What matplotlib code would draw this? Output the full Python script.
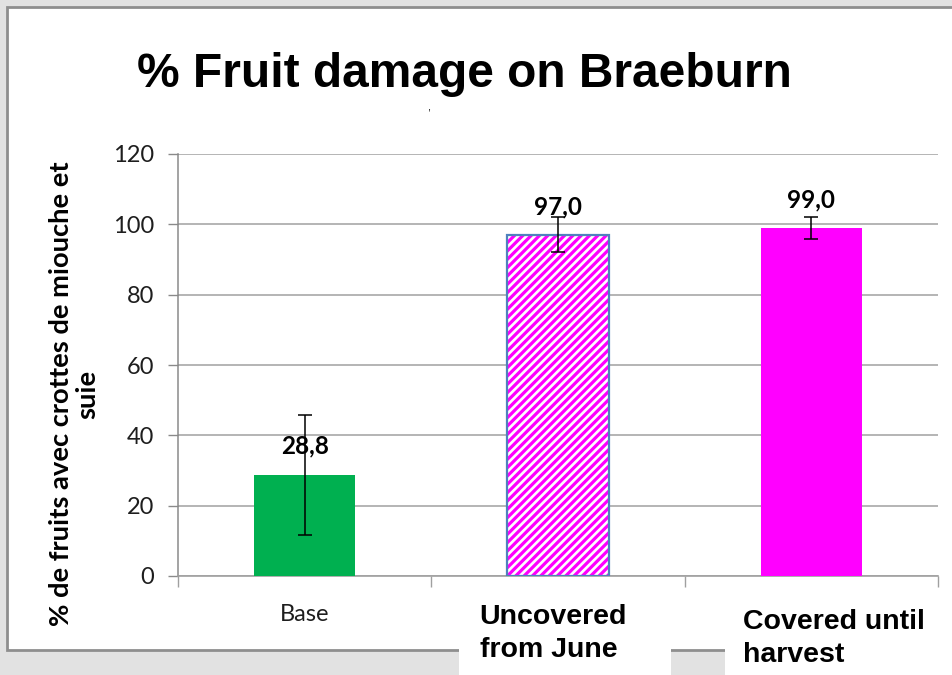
import numpy as np
import matplotlib
matplotlib.use("Agg")
import matplotlib.pyplot as plt
from matplotlib.patches import Rectangle
import matplotlib.transforms as mtransforms

# ---- data ----
categories = ["Base", "Uncovered\nfrom June", "Covered until\nharvest"]
values = [28.8, 97.0, 99.0]
errors = [17.0, 5.0, 3.2]
value_labels = ["28,8", "97,0", "99,0"]
yticks = [0, 20, 40, 60, 80, 100, 120]
title = "% Fruit damage on Braeburn"
ylabel = "% de fruits avec crottes de miouche et\nsuie"

# ---- styles ----
fill_colors = ["#00b050", "white", "#ff00ff"]
hatch_colors = ["#00b050", "#ff00ff", "#ff00ff"]
hatches = [None, "////", None]
outline_colors = [None, "#4f81bd", None]

W, H = 953, 675
fig = plt.figure(figsize=(W / 100, H / 100), dpi=100)
fig.patch.set_facecolor("#e2e2e2")
plt.rcParams["hatch.linewidth"] = 2.3


def pxrect(x0, y0, x1, y1, **kw):
    return Rectangle((x0 / W, 1 - y1 / H), (x1 - x0) / W, (y1 - y0) / H,
                     transform=fig.transFigure, **kw)


fig.add_artist(pxrect(7, 7, 975, 650, facecolor="white", edgecolor="#8e8e8e",
                      linewidth=2, zorder=-5))
fig.add_artist(pxrect(459, 598, 671, 690, facecolor="white", edgecolor="none", zorder=-4))
fig.add_artist(pxrect(725, 598, 990, 690, facecolor="white", edgecolor="none", zorder=-4))

ax = fig.add_axes([178 / W, 1 - 576 / H, 760 / W, 422 / H])
ax.set_facecolor("none")
x = np.arange(len(categories))

for i in range(len(categories)):
    ax.bar(x[i], values[i], width=0.4, color=fill_colors[i], edgecolor=hatch_colors[i],
           hatch=hatches[i], linewidth=0, zorder=3)
    if outline_colors[i]:
        ax.bar(x[i], values[i], width=0.4, fill=False, edgecolor=outline_colors[i],
               linewidth=1.6, zorder=4)

ax.errorbar(x, values, yerr=errors, fmt="none", ecolor="black", elinewidth=1.1,
            capsize=5, capthick=1.1, zorder=6)

for i, lab in enumerate(value_labels):
    ax.annotate(lab, xy=(x[i], values[i]), xytext=(0, 15), textcoords="offset points",
                ha="center", va="baseline", fontsize=17.5, fontweight="bold",
                family="Lato", color="black", zorder=7)

ax.set_xlim(-0.5, 2.5)
ax.set_ylim(0, 120)
ax.set_yticks(yticks)
ax.set_yticklabels([str(t) for t in yticks], family="Lato", fontsize=17, color="#1e1e1e")
ax.tick_params(axis="y", length=7, width=1, color="#8a8a8a", pad=10)
ax.grid(axis="y", color="#a8a8a8", linewidth=1.2, zorder=0)
ax.set_axisbelow(True)
for s in ["top", "right"]:
    ax.spines[s].set_visible(False)
ax.spines["left"].set_color("#8a8a8a")
ax.spines["bottom"].set_color("#a0a0a0")
ax.spines["left"].set_linewidth(1.1)
ax.spines["bottom"].set_linewidth(1.2)

ax.set_xticks(x)
ax.set_xticklabels([""] * len(x))
ax.tick_params(axis="x", which="major", length=0)
ax.set_xticks(np.arange(-0.5, 3, 1.0), minor=True)
ax.tick_params(axis="x", which="minor", length=8, width=1, color="#a0a0a0")

trans = mtransforms.blended_transform_factory(ax.transData, ax.transAxes)
ax.annotate(categories[0], xy=(x[0], 0), xycoords=trans, xytext=(0, -28),
            textcoords="offset points", ha="center", va="center", fontsize=17,
            family="Lato", color="#1e1e1e")
ax.annotate(categories[1], xy=(x[1], 0), xycoords=trans, xytext=(-56.5, -20),
            textcoords="offset points", ha="left", va="top", fontsize=20.5,
            fontweight="bold", family="Liberation Sans", color="black",
            linespacing=1.35)
ax.annotate(categories[2], xy=(x[2], 0), xycoords=trans, xytext=(-49, -24),
            textcoords="offset points", ha="left", va="top", fontsize=20.5,
            fontweight="bold", family="Liberation Sans", color="black",
            linespacing=1.35)

ax.text(-0.137, 0.431, ylabel, transform=ax.transAxes, rotation=90,
        rotation_mode="anchor", ha="center", va="center", fontsize=19.7,
        fontweight="bold", family="Lato", color="black", linespacing=1.12)

fig.text(464 / W, 1 - 87 / H, title, ha="center", va="baseline", fontsize=34.5,
         fontweight="bold", family="Liberation Sans", color="black")
fig.text(429 / W, 1 - 110 / H, ",", ha="center", va="baseline", fontsize=8,
         family="Liberation Sans", color="black")

fig.savefig("out.png", dpi=100, facecolor=fig.get_facecolor())
